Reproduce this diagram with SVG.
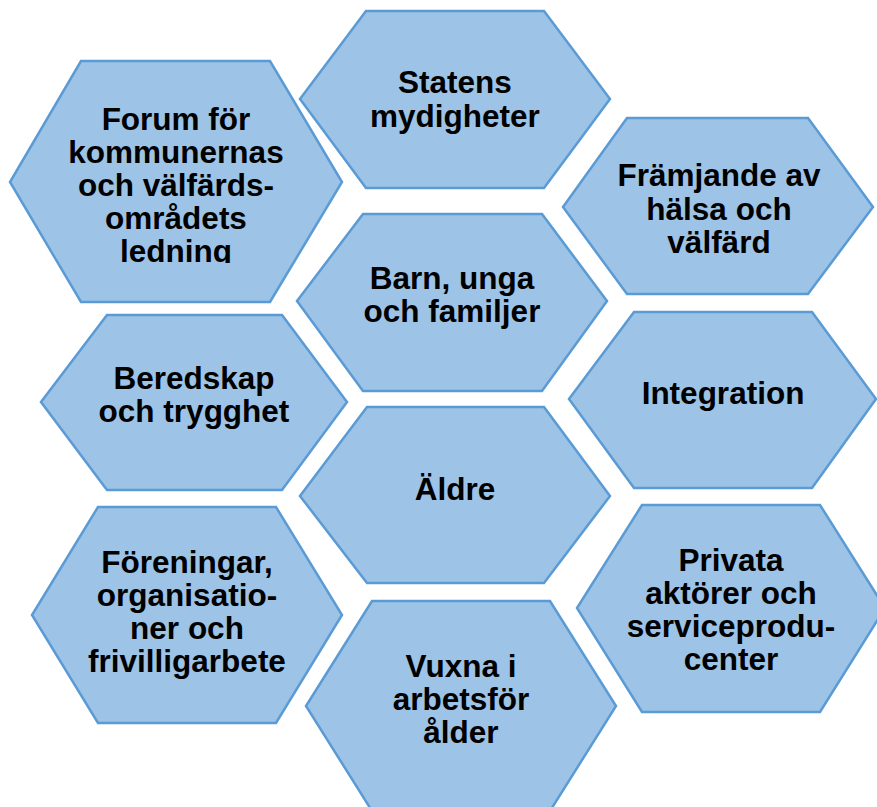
<svg xmlns="http://www.w3.org/2000/svg" width="877" height="807" viewBox="0 0 877 807">
<style>
.hex{fill:#9DC3E6;stroke:#5B9BD5;stroke-width:2.5;stroke-linejoin:miter}
.t{font-family:"Liberation Sans",Arial,sans-serif;font-weight:bold;font-size:31.5px;fill:#000;text-anchor:middle}
</style>
<defs>
<clipPath id="clipForum"><rect x="0" y="61" width="350" height="202"/></clipPath>
</defs>
<rect width="877" height="807" fill="#fff"/>
<g id="connectors"></g>
<g id="forum">
<polygon class="hex" points="81,61 270,61 342,182 270,302 81,302 10,182"/>
<g clip-path="url(#clipForum)">
<text class="t" x="176" y="130">Forum för</text>
<text class="t" x="176" y="163">kommunernas</text>
<text class="t" x="176" y="196">och välfärds-</text>
<text class="t" x="176" y="229">områdets</text>
<text class="t" x="176" y="262">ledning</text>
</g>
</g>
<g id="statens">
<polygon class="hex" points="366,11 544,11 610,99 544,188 366,188 300,99"/>
<text class="t" x="455" y="93">Statens</text>
<text class="t" x="455" y="127">mydigheter</text>
</g>
<g id="framjande">
<polygon class="hex" points="627,118 808,118 873,207 808,294 627,294 563,207"/>
<text class="t" x="719" y="186">Främjande av</text>
<text class="t" x="719" y="220">hälsa och</text>
<text class="t" x="719" y="253">välfärd</text>
</g>
<g id="barn">
<polygon class="hex" points="363,214 542,214 607,301 542,391 363,391 297,301"/>
<text class="t" x="452" y="289">Barn, unga</text>
<text class="t" x="452" y="322">och familjer</text>
</g>
<g id="beredskap">
<polygon class="hex" points="107,315 282,315 347,402 282,490 107,490 41,402"/>
<text class="t" x="194" y="389">Beredskap</text>
<text class="t" x="194" y="422">och trygghet</text>
</g>
<g id="integration">
<polygon class="hex" points="634,312 812,312 876,399 812,488 634,488 569,399"/>
<text class="t" x="723" y="404">Integration</text>
</g>
<g id="aldre">
<polygon class="hex" points="367,407 544,407 610,496 544,583 367,583 300,496"/>
<text class="t" x="455" y="500">Äldre</text>
</g>
<g id="foreningar">
<polygon class="hex" points="98,507 276,507 342,615 276,723 98,723 32,615"/>
<text class="t" x="187" y="573">Föreningar,</text>
<text class="t" x="187" y="606">organisatio-</text>
<text class="t" x="187" y="639">ner och</text>
<text class="t" x="187" y="672">frivilligarbete</text>
</g>
<g id="privata">
<polygon class="hex" points="642,505 820,505 885,608 820,712 642,712 577,608"/>
<text class="t" x="731" y="571">Privata</text>
<text class="t" x="731" y="604">aktörer och</text>
<text class="t" x="731" y="637">serviceprodu-</text>
<text class="t" x="731" y="670">center</text>
</g>
<g id="vuxna">
<polygon class="hex" points="372,601 550,601 616,706 550,811 372,811 306,706"/>
<text class="t" x="461" y="677">Vuxna i</text>
<text class="t" x="461" y="710">arbetsför</text>
<text class="t" x="461" y="743">ålder</text>
</g>
</svg>
